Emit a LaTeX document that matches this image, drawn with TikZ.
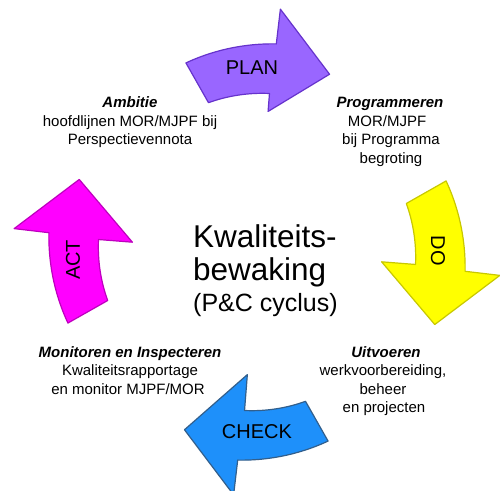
\documentclass[tikz,border=0pt]{standalone}
\usepackage{fontspec}
\setmainfont{Liberation Sans}
\definecolor{planfill}{RGB}{153,102,255}
\definecolor{plandraw}{RGB}{102,51,204}
\definecolor{dofill}{RGB}{255,255,0}
\definecolor{dodraw}{RGB}{200,200,0}
\definecolor{checkfill}{RGB}{30,144,250}
\definecolor{checkdraw}{RGB}{50,95,140}
\definecolor{actfill}{RGB}{255,0,255}
\definecolor{actdraw}{RGB}{190,0,190}
\newcommand\pcarrow[3]{%
 \begin{scope}[shift={(257,238)},rotate=#1]
  \filldraw[#3] plot[domain=110.6:84.7,samples=30,variable=\t] (\t:{202+7*(110.6-\t)/25.9})
   -- (84.5:244) -- (67.8:192) -- (85.5:#2) -- (85.5:159)
   -- plot[domain=85.5:108,samples=30,variable=\t] (\t:{159-2*(\t-85.5)/22.5}) -- cycle;
 \end{scope}}
\tikzset{
 arrowshape/.style={line width=1.2pt, line join=round},
 lbl/.style={font=\fontsize{15}{18}\selectfont, inner sep=0pt, anchor=base},
 hd/.style={lbl, font=\fontsize{15}{18}\selectfont\bfseries\itshape},
 arrlbl/.style={font=\fontsize{20}{24}\selectfont, inner sep=0pt},
 bigtxt/.style={inner sep=0pt, anchor=base west}
}
\begin{document}
\begin{tikzpicture}[x=1pt,y=1pt]
\useasboundingbox (0,0) rectangle (500,490);
\fill[white] (0,0) rectangle (500,490);
% arrows
\pcarrow{0}{141}{arrowshape, fill=planfill, draw=plandraw}
\pcarrow{-90}{125}{arrowshape, fill=dofill, draw=dodraw}
\pcarrow{-180}{123}{arrowshape, fill=checkfill, draw=checkdraw}
\pcarrow{-270}{125}{arrowshape, fill=actfill, draw=actdraw}
% arrow labels
\node[arrlbl] (plan) at (252,422) {PLAN};
\node[arrlbl, rotate=-90] (do) at (438,239) {DO};
\node[arrlbl] (check) at (257,58) {CHECK};
\node[arrlbl, rotate=90] (act) at (73,230) {ACT};
% centre
\node[bigtxt, font=\fontsize{31.5}{36}\selectfont] (c1) at (193,242) {Kwaliteits-};
\node[bigtxt, font=\fontsize{31.5}{36}\selectfont] (c2) at (193,209) {bewaking};
\node[bigtxt, font=\fontsize{25}{28}\selectfont] (c3) at (193,178) {(P\&C cyclus)};
% Ambitie
\node[hd] (a1) at (130,382) {Ambitie};
\node[lbl] (a2) at (130,363.5) {hoofdlijnen MOR/MJPF bij};
\node[lbl] (a3) at (130,345) {Perspectievennota};
% Programmeren
\node[hd] (p1) at (390,382) {Programmeren};
\node[lbl] (p2) at (387,363.5) {MOR/MJPF};
\node[lbl] (p3) at (391,345) {bij Programma};
\node[lbl] (p4) at (391,326.5) {begroting};
% Monitoren
\node[hd] (m1) at (130,133) {Monitoren en Inspecteren};
\node[lbl] (m2) at (130,114.5) {Kwaliteitsrapportage};
\node[lbl] (m3) at (128,96) {en monitor MJPF/MOR};
% Uitvoeren
\node[hd] (u1) at (386,133) {Uitvoeren};
\node[lbl] (u2) at (383,114.5) {werkvoorbereiding,};
\node[lbl] (u3) at (383,96) {beheer};
\node[lbl] (u4) at (384,77.5) {en projecten};
\end{tikzpicture}
\end{document}
